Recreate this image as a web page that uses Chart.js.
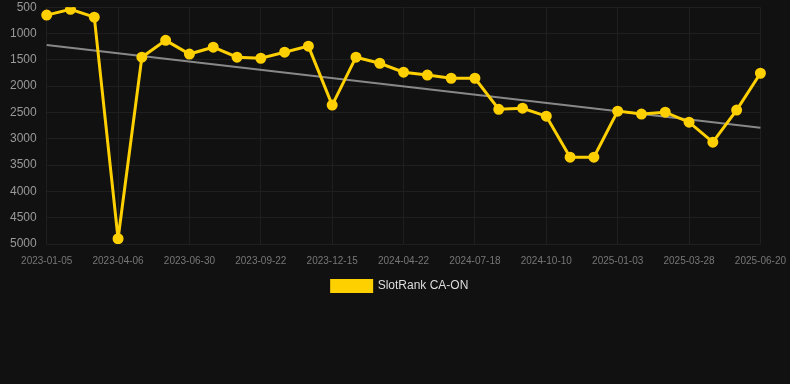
<!DOCTYPE html>
<html>
<head>
<meta charset="utf-8">
<script src="https://cdn.jsdelivr.net/npm/chart.js@4.4.0/dist/chart.umd.min.js"></script>
<style>
  html, body { margin: 0; padding: 0; background: #111111; }
  #wrap { width: 790px; height: 302px; position: relative; }
</style>
</head>
<body>
<div id="wrap"><canvas id="rankChart"></canvas></div>
<script>
// dates (every 4 weeks or so)
const dates = [
  "2023-01-05", "2023-02-03", "2023-03-07", "2023-04-06", "2023-05-05", "2023-06-02",
  "2023-06-30", "2023-07-28", "2023-08-25", "2023-09-22", "2023-10-20", "2023-11-17",
  "2023-12-15", "2024-01-26", "2024-03-08", "2024-04-22", "2024-05-23", "2024-06-20",
  "2024-07-18", "2024-08-15", "2024-09-12", "2024-10-10", "2024-11-08", "2024-12-06",
  "2025-01-03", "2025-01-31", "2025-02-28", "2025-03-28", "2025-04-25", "2025-05-23",
  "2025-06-20"
];

const rankValues = [
  650, 540, 690, 4900, 1450, 1130, 1390, 1260, 1450, 1470, 1355, 1240,
  2360, 1450, 1565, 1735, 1790, 1850, 1850, 2440, 2420, 2570, 3350, 3350,
  2475, 2530, 2495, 2685, 3065, 2455, 1755
];

// trend line ends
const trendStart = 1220;
const trendEnd = 2790;

const trendValues = dates.map(function (d, i) {
  if (i === 0) return trendStart;
  if (i === dates.length - 1) return trendEnd;
  return null;
});

const ctx = document.getElementById("rankChart").getContext("2d");
const rankChart = new Chart(ctx, {
  type: "line",
  data: {
    labels: dates,
    datasets: [{
      label: "SlotRank CA-ON",
      data: rankValues,
      borderColor: "#ffd000",
      backgroundColor: "#ffd000",
      borderWidth: 3,
      pointRadius: 4,
      pointHoverRadius: 4,
      tension: 0,
      order: 1
    }, {
      label: "trend",
      data: trendValues,
      borderColor: "rgba(150, 150, 150, 0.9)",
      borderWidth: 2,
      pointRadius: 0,
      spanGaps: true,
      tension: 0,
      order: 2
    }]
  },
  options: {
    responsive: true,
    maintainAspectRatio: false,
    animation: false,
    layout: {
      autoPadding: false,
      padding: { left: 10, right: 0, top: 0, bottom: 0 }
    },
    scales: {
      x: {
        offset: false,
        grid: { color: "#1f1f1f", drawTicks: true, tickLength: 7, tickColor: "rgba(0,0,0,0)" },
        border: { display: false },
        ticks: {
          color: "#777777",
          font: { size: 10, family: "Liberation Sans, Arial, sans-serif" },
          padding: 4,
          autoSkip: false,
          maxRotation: 0,
          callback: function (val, i) {
            return i % 3 === 0 ? this.getLabelForValue(val) : null;
          }
        }
      },
      y: {
        reverse: true,
        min: 500,
        max: 5000,
        grid: { color: "#1f1f1f", drawTicks: true, tickLength: 10, tickColor: "rgba(0,0,0,0)" },
        border: { display: false },
        ticks: {
          stepSize: 500,
          color: "#999999",
          font: { size: 12, family: "Liberation Sans, Arial, sans-serif" },
          padding: 0,
          callback: function (val) {
            return String(val);
          }
        }
      }
    },
    plugins: {
      legend: {
        position: "bottom",
        labels: {
          color: "#dddddd",
          boxWidth: 40,
          boxHeight: 11,
          padding: 9,
          font: { size: 12, family: "Liberation Sans, Arial, sans-serif" },
          filter: function (item) {
            return item.text !== "trend";
          }
        }
      },
      tooltip: { enabled: false }
    }
  }
});
</script>
</body>
</html>
